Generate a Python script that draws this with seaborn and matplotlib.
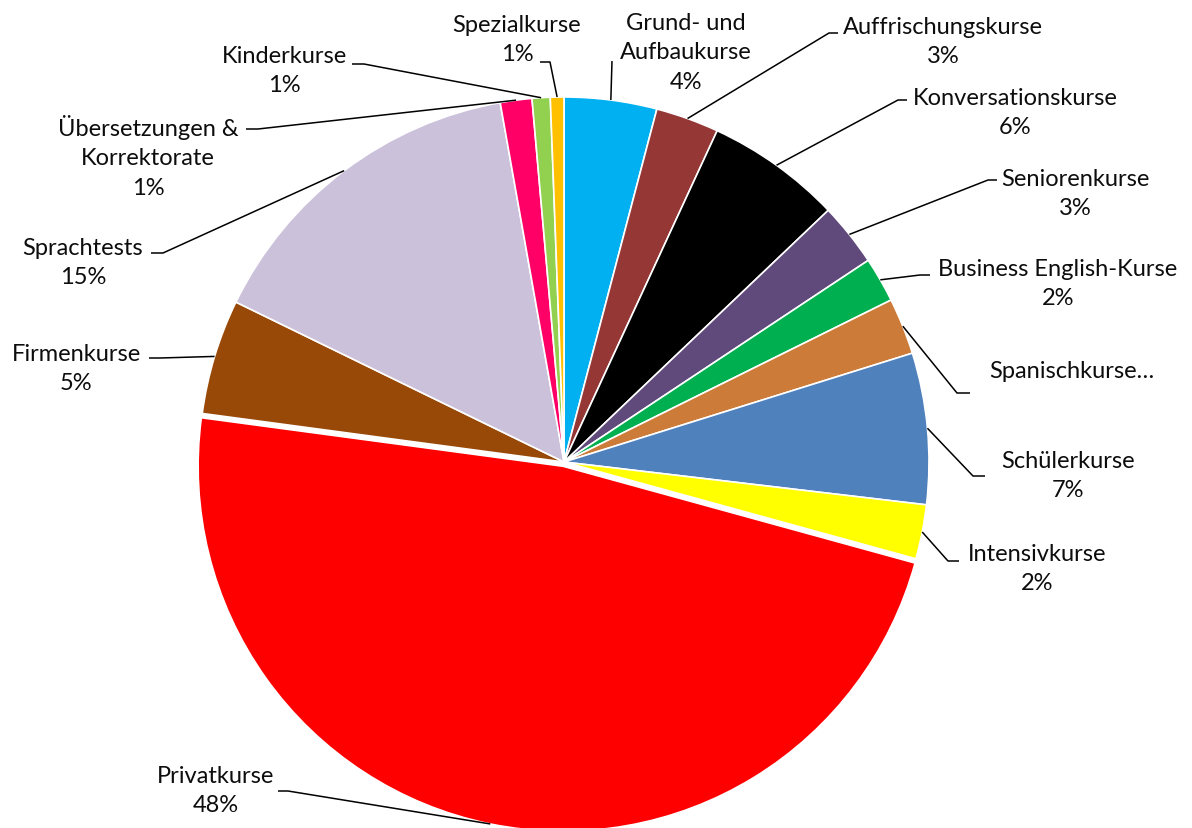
import numpy as np
import matplotlib
matplotlib.use('Agg')
import matplotlib.pyplot as plt
import seaborn as sns

# Kursarten und Anteile (im Uhrzeigersinn ab 12 Uhr)
kurse = ['Grund- und\nAufbaukurse', 'Auffrischungskurse', 'Konversationskurse',
         'Seniorenkurse', 'Business English-Kurse', 'Spanischkurse…',
         'Schülerkurse', 'Intensivkurse', 'Privatkurse', 'Firmenkurse',
         'Sprachtests', 'Übersetzungen &\nKorrektorate', 'Kinderkurse', 'Spezialkurse']
anteile = [4.1, 2.8, 6.0, 2.8, 2.0, 2.5, 6.7, 2.4, 47.9, 5.1, 15.0, 1.4, 0.8, 0.6]
mit_prozent = [True, True, True, True, True, False, True, True, True, True, True, True, True, True]
farben = ['#00B0F0', '#953735', '#000000', '#604A7B', '#00B050', '#CC7B38',
          '#4F81BD', '#FFFF00', '#FF0000', '#984807', '#CCC1DA', '#FF0066',
          '#92D050', '#FFC000']
explode = [0, 0, 0, 0, 0, 0, 0, 0, 0.012, 0, 0, 0, 0, 0]

# Layout in Pixeln (Referenzbild): Textmitte, Knickpunkt, Linienende
text_pos = [(686, 53), (943, 42), (1015, 113), (1075, 194), (1058, 284), (1072, 372),
            (1068, 476), (1037, 569), (216, 791), (76, 369), (83, 263), (148, 157),
            (284, 71), (517, 40)]
knick = [(612, 62), (829, 34), (898, 101), (988, 181), (920, 276), (957, 394),
         (973, 477), (948, 562), (288, 792), (160, 359), (163, 254), (258, 130),
         (364, 65), (550, 63)]
ende = [(612, 62), (838, 34), (907, 101), (997, 181), (930, 276), (970, 394),
        (985, 477), (959, 562), (278, 792), (149, 359), (151, 254), (246, 130),
        (352, 65), (540, 63)]

sns.set_theme(style='white')
plt.rcParams['font.family'] = ['Lato', 'DejaVu Sans']

W, H = 1192, 829
cx, cy, R = 564, 463, 365


def px(p):
    return ((p[0] - cx) / R, (cy - p[1]) / R)


fig = plt.figure(figsize=(W / 100, H / 100), dpi=100)
ax = fig.add_axes([0, 0, 1, 1])

wedges, _ = ax.pie(anteile, colors=farben, startangle=90, counterclock=False,
                   explode=explode, radius=1,
                   wedgeprops={'edgecolor': 'white', 'linewidth': 1.2})

summe = sum(anteile)
for i, w in enumerate(wedges):
    mid = np.deg2rad((w.theta1 + w.theta2) / 2)
    ex = w.center[0] + w.r * np.cos(mid)
    ey = w.center[1] + w.r * np.sin(mid)
    kx, ky = px(knick[i])
    ox, oy = px(ende[i])
    ax.plot([ex, kx, ox], [ey, ky, oy], color='black', lw=1.1, solid_capstyle='butt')
    txt = kurse[i]
    if mit_prozent[i]:
        txt += f'\n{round(anteile[i] / summe * 100)}%'
    tx, ty = px(text_pos[i])
    ax.text(tx, ty, txt, ha='center', va='center', multialignment='center',
            fontsize=17, color='#0d0d0d', linespacing=1.5)

ax.set_xlim(-cx / R, (W - cx) / R)
ax.set_ylim(-(H - cy) / R, cy / R)
ax.set_aspect('equal')
ax.axis('off')

fig.savefig('out.png', dpi=100)
